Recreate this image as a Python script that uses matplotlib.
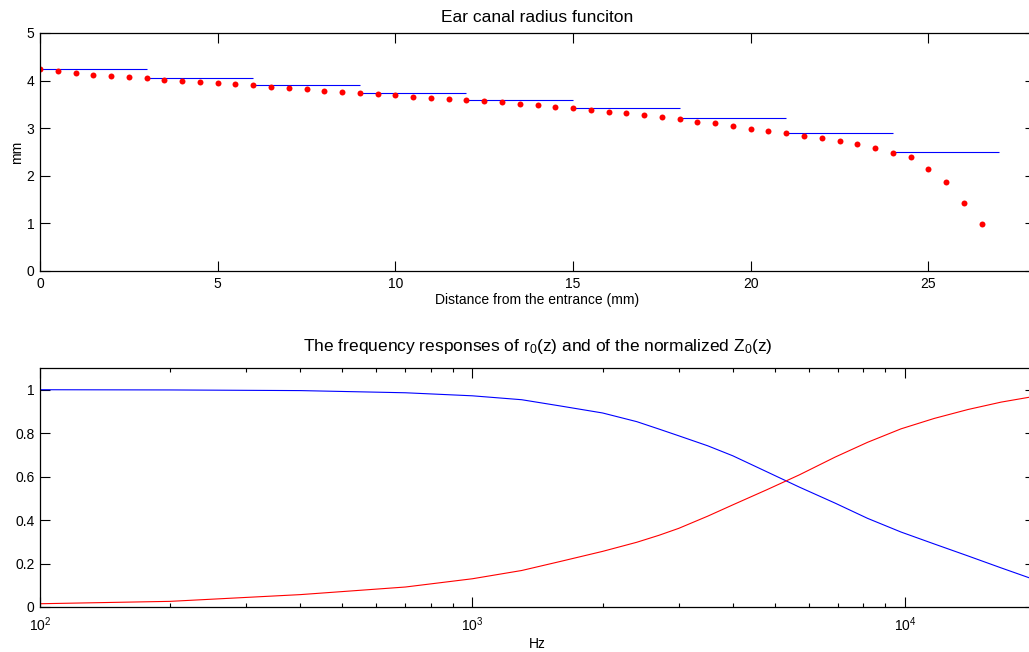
import matplotlib
matplotlib.use('Agg')
import matplotlib.pyplot as plt
from matplotlib.ticker import LogLocator, FixedLocator, NullFormatter

plt.rcParams['font.family'] = ['Liberation Sans', 'DejaVu Sans']
plt.rcParams['mathtext.default'] = 'regular'

# ---- Top panel data: ear canal radius ----
distance_mm = [0, 0.5, 1, 1.5, 2, 2.5, 3, 3.5, 4, 4.5, 5, 5.5, 6, 6.5, 7, 7.5,
               8, 8.5, 9, 9.5, 10, 10.5, 11, 11.5, 12, 12.5, 13, 13.5, 14, 14.5,
               15, 15.5, 16, 16.5, 17, 17.5, 18, 18.5, 19, 19.5, 20, 20.5, 21,
               21.5, 22, 22.5, 23, 23.5, 24, 24.5, 25, 25.5, 26, 26.5]
radius_mm = [4.24, 4.20, 4.17, 4.12, 4.09, 4.07, 4.05, 4.01, 3.99, 3.98, 3.94,
             3.92, 3.90, 3.87, 3.84, 3.82, 3.79, 3.77, 3.73, 3.71, 3.70, 3.66,
             3.64, 3.62, 3.59, 3.57, 3.54, 3.51, 3.49, 3.45, 3.42, 3.38, 3.34,
             3.31, 3.27, 3.23, 3.19, 3.14, 3.10, 3.05, 2.99, 2.95, 2.89, 2.84,
             2.80, 2.74, 2.67, 2.59, 2.48, 2.39, 2.14, 1.88, 1.43, 0.98]
segment_start = [0, 3, 6, 9, 12, 15, 18, 21, 24]
segment_end = [3, 6, 9, 12, 15, 18, 21, 24, 27]
segment_radius = [4.24, 4.06, 3.90, 3.75, 3.60, 3.42, 3.21, 2.90, 2.49]

top_xticks = [0, 5, 10, 15, 20, 25]
top_yticks = [0, 1, 2, 3, 4, 5]

# ---- Bottom panel data: frequency responses ----
freq_hz = [100, 200, 400, 700, 1000, 1300, 1600, 2000, 2400, 2700, 3000, 3500,
           4000, 4800, 5700, 6900, 8200, 9800, 11700, 14000, 16700, 20000]
r0_resp = [1.000, 0.999, 0.996, 0.986, 0.972, 0.954, 0.925, 0.893, 0.853,
           0.819, 0.788, 0.742, 0.696, 0.622, 0.552, 0.478, 0.408, 0.345,
           0.290, 0.235, 0.180, 0.125]
z0_resp = [0.015, 0.026, 0.057, 0.092, 0.130, 0.168, 0.210, 0.256, 0.298,
           0.330, 0.362, 0.418, 0.470, 0.540, 0.608, 0.690, 0.758, 0.820,
           0.868, 0.909, 0.943, 0.970]
bottom_yticks = [0, 0.2, 0.4, 0.6, 0.8, 1]
bottom_yticklabels = ['0', '0.2', '0.4', '0.6', '0.8', '1']

W, H = 1029, 652
fig = plt.figure(figsize=(W / 100, H / 100), dpi=100)

left_px, right_px = 40, 1035
ax1 = fig.add_axes([left_px / W, (H - 271) / H, (right_px - left_px) / W, (271 - 33) / H])
ax2 = fig.add_axes([left_px / W, (H - 607) / H, (right_px - left_px) / W, (607 - 368) / H])

def style(ax):
    for s in ax.spines.values():
        s.set_linewidth(0.9)
        s.set_color('black')
    ax.tick_params(which='both', direction='in', top=True, right=True,
                   labelsize=10, width=0.8, colors='black', pad=4)
    ax.tick_params(which='major', length=7)
    ax.tick_params(which='minor', length=3)

# Top
ax1.hlines(segment_radius, segment_start, segment_end, colors='#0000ff', linewidth=0.8)
ax1.plot(distance_mm, radius_mm, linestyle='none', marker='o', markersize=4.3,
         color='#ff0000', markeredgewidth=0)
ax1.set_xlim(0, 28)
ax1.set_ylim(0, 5)
ax1.xaxis.set_major_locator(FixedLocator(top_xticks))
ax1.yaxis.set_major_locator(FixedLocator(top_yticks))
style(ax1)
ax1.set_title('Ear canal radius funciton', fontsize=12.5, pad=8)
ax1.set_xlabel('Distance from the entrance (mm)', fontsize=10, labelpad=2)
ax1.set_ylabel('mm', fontsize=10, labelpad=2)

# Bottom
ax2.semilogx(freq_hz, r0_resp, color='#0000ff', linewidth=0.8)
ax2.semilogx(freq_hz, z0_resp, color='#ff0000', linewidth=0.8)
ax2.set_xlim(100, 20000)
ax2.set_ylim(0, 1.1)
ax2.xaxis.set_major_locator(LogLocator(base=10, numticks=10))
ax2.xaxis.set_minor_locator(LogLocator(base=10, subs=[2, 3, 4, 5, 6, 7, 8, 9], numticks=20))
ax2.xaxis.set_minor_formatter(NullFormatter())
ax2.yaxis.set_major_locator(FixedLocator(bottom_yticks))
ax2.set_yticklabels(bottom_yticklabels)
style(ax2)
ax2.tick_params(axis='x', which='major', pad=6)
ax2.set_title('The frequency responses of r$_0$(z) and of the normalized Z$_0$(z)',
              fontsize=12.5, pad=12)
ax2.set_xlabel('Hz', fontsize=10, labelpad=2)

fig.savefig('out.png', dpi=100)
